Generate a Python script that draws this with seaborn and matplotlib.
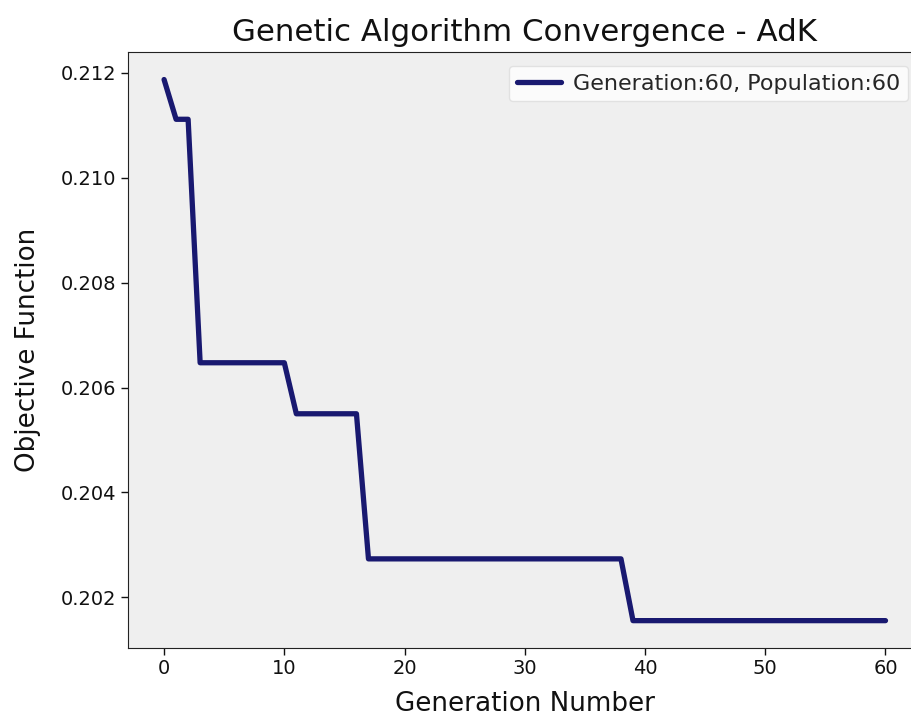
import matplotlib
matplotlib.use("Agg")
import matplotlib.pyplot as plt
import seaborn as sns
import pandas as pd

# Best objective value found at each generation of the GA run
generations = list(range(61))
objective = [
    0.211874,
    0.211116, 0.211116,
    0.206473, 0.206473, 0.206473, 0.206473, 0.206473, 0.206473, 0.206473, 0.206473,
    0.205500, 0.205500, 0.205500, 0.205500, 0.205500, 0.205500,
    0.202733, 0.202733, 0.202733, 0.202733, 0.202733, 0.202733, 0.202733, 0.202733,
    0.202733, 0.202733, 0.202733, 0.202733, 0.202733, 0.202733, 0.202733, 0.202733,
    0.202733, 0.202733, 0.202733, 0.202733, 0.202733, 0.202733,
    0.201555, 0.201555, 0.201555, 0.201555, 0.201555, 0.201555, 0.201555, 0.201555,
    0.201555, 0.201555, 0.201555, 0.201555, 0.201555, 0.201555, 0.201555, 0.201555,
    0.201555, 0.201555, 0.201555, 0.201555, 0.201555, 0.201555,
]
series_label = "Generation:60, Population:60"

df = pd.DataFrame({"Generation": generations, "Objective": objective})

sns.set_style("ticks", {"axes.facecolor": "#efefef", "axes.edgecolor": "#222222"})
plt.rcParams["font.family"] = ["DejaVu Sans"]

fig = plt.figure(figsize=(9.11, 7.16), dpi=100)
ax = fig.add_axes([0.1405, 0.0954, 0.8711, 0.8313])

sns.lineplot(data=df, x="Generation", y="Objective", ax=ax,
             color="#191970", linewidth=3.8, label=series_label)

ax.set_title("Genetic Algorithm Convergence - AdK", fontsize=22.2, color="#111111", pad=8)
ax.set_xlabel("Generation Number", fontsize=18.8, color="#111111", labelpad=9)
ax.set_ylabel("Objective Function", fontsize=18.8, color="#111111", labelpad=14)
ax.tick_params(axis="both", labelsize=14, colors="#111111", length=5, width=1)
ax.set_xticks([0, 10, 20, 30, 40, 50, 60])
ax.set_yticks([0.202, 0.204, 0.206, 0.208, 0.210, 0.212])
ax.yaxis.set_major_formatter(matplotlib.ticker.FormatStrFormatter("%.3f"))
ax.grid(False)

ax.legend(loc="upper right", fontsize=16, frameon=True, framealpha=0.8,
          facecolor="white", edgecolor="#dddddd", handlelength=2.0,
          handletextpad=0.55, borderaxespad=0.6, borderpad=0.35)

fig.savefig("out.png", dpi=100)
